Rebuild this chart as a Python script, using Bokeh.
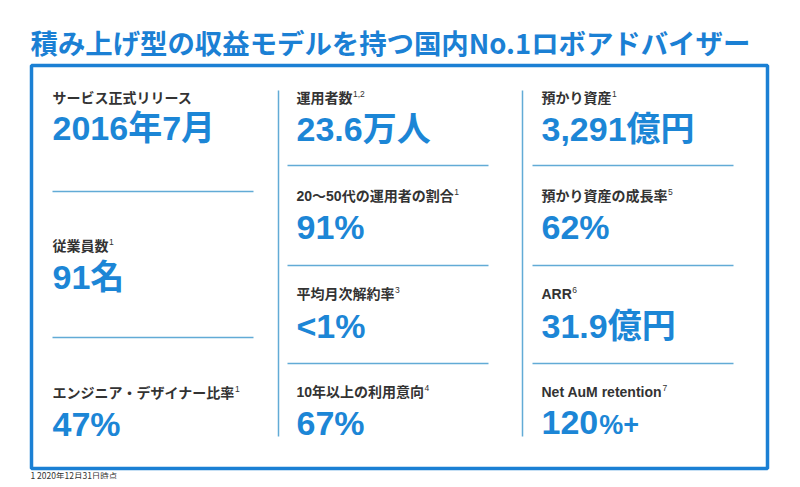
from bokeh.plotting import figure
from bokeh.models import Range1d
from bokeh.core.properties import value
from bokeh.embed import file_html
from bokeh.resources import INLINE

# ---- data ----
title = "積み上げ型の収益モデルを持つ国内No.1ロボアドバイザー"
col1_labels = ["サービス正式リリース", "従業員数", "エンジニア・デザイナー比率"]
col1_notes = ["", "1", "1"]
col1_values = ["2016年7月", "91名", "47%"]
col2_labels = ["運用者数", "20〜50代の運用者の割合", "平均月次解約率", "10年以上の利用意向"]
col2_notes = ["1,2", "1", "3", "4"]
col2_values = ["23.6万人", "91%", "<1%", "67%"]
col3_labels = ["預かり資産", "預かり資産の成長率", "ARR", "Net AuM retention"]
col3_notes = ["1", "5", "6", "7"]
col3_values = ["3,291億円", "62%", "31.9億円", "120%+"]
footnotes = ["1 2020年12月31日時点"]

# ---- styles ----
BLUE = "#1b80d4"
VAL_BLUE = "#1c86d6"
LIGHT = "#62abd6"
DARK = "#333333"
FONT = "Liberation Sans, Noto Sans CJK JP"
CJK = "Noto Sans CJK JP"

LAT = {c: 0.556 for c in "0123456789"}
LAT.update({",": 0.278, ".": 0.278, " ": 0.278, "A": 0.722, "R": 0.722, "N": 0.722,
            "M": 0.833, "e": 0.556, "t": 0.333, "u": 0.611, "r": 0.389, "n": 0.611,
            "i": 0.278, "o": 0.611, "%": 0.889, "+": 0.584, "<": 0.584})


def tw(s, size):
    return sum(size * (LAT.get(c, 0.6) if ord(c) < 0x2000 else 1.0) for c in s)


W, H = 792, 479
p = figure(width=W, height=H, output_backend="svg", toolbar_location=None,
           x_range=Range1d(0, W), y_range=Range1d(H, 0),
           x_axis_type=None, y_axis_type=None, min_border=0)
p.grid.visible = False
p.outline_line_color = None
p.background_fill_color = "white"
p.border_fill_color = "white"

# title
p.text(x=[30], y=[41], text=[title], text_font=value(CJK), text_font_style="bold",
       text_font_size="27.4px", text_color=BLUE, text_baseline="middle")

# frame
p.quad(left=[31], right=[767], top=[65], bottom=[468], fill_color=None,
       line_color=BLUE, line_width=3.5)

# vertical dividers
p.segment(x0=[278, 522], y0=[90, 90], x1=[278, 522], y1=[436, 436],
          line_color=LIGHT, line_width=1.5)

# horizontal separators
p.segment(x0=[52, 52], y0=[191, 337], x1=[253, 253], y1=[191, 337],
          line_color=LIGHT, line_width=1.5)
for x0 in (287, 532):
    p.segment(x0=[x0] * 3, y0=[165, 265, 363], x1=[x0 + 201] * 3, y1=[165, 265, 363],
              line_color=LIGHT, line_width=1.5)

LSIZE = 14
VSIZE = 34


def draw_col(x, labels, notes, vals, lab_y, val_y):
    p.text(x=[x] * len(labels), y=lab_y, text=labels, text_font=value(FONT),
           text_font_style="bold", text_font_size=f"{LSIZE}px", text_color=DARK,
           text_baseline="middle")
    nx, ny, nt = [], [], []
    for lab, n, ly in zip(labels, notes, lab_y):
        if n:
            nx.append(x + tw(lab, LSIZE) + 0.5)
            ny.append(ly - 4)
            nt.append(n)
    if nt:
        p.text(x=nx, y=ny, text=nt, text_font=value(FONT), text_font_size="8.5px",
               text_color=DARK, text_baseline="middle")
    main, mx, my, sx, sy, st = [], [], [], [], [], []
    for v, vy in zip(vals, val_y):
        if v.endswith("%+"):
            head = v[:-2]
            main.append(head); mx.append(x); my.append(vy)
            sx.append(x + tw(head, VSIZE) + 1); sy.append(vy + 2); st.append("%+")
        else:
            main.append(v); mx.append(x); my.append(vy)
    p.text(x=mx, y=my, text=main, text_font=value(FONT), text_font_style="bold",
           text_font_size=f"{VSIZE}px", text_color=VAL_BLUE, text_baseline="middle")
    if st:
        p.text(x=sx, y=sy, text=st, text_font=value(FONT), text_font_style="bold",
               text_font_size="27px", text_color=VAL_BLUE, text_baseline="middle")


draw_col(52, col1_labels, col1_notes, col1_values, [97, 245, 392], [127, 276, 423])
draw_col(296, col2_labels, col2_notes, col2_values, [97, 195, 293, 391], [128, 226, 325, 422])
draw_col(541, col3_labels, col3_notes, col3_values, [97, 195, 293, 391], [128, 226, 325, 422])

# footnotes
p.text(x=[30], y=[474], text=footnotes, text_font=value(CJK), text_font_size="8.5px",
       text_color=DARK, text_baseline="middle")

open("out.html", "w").write(file_html(p, INLINE))
